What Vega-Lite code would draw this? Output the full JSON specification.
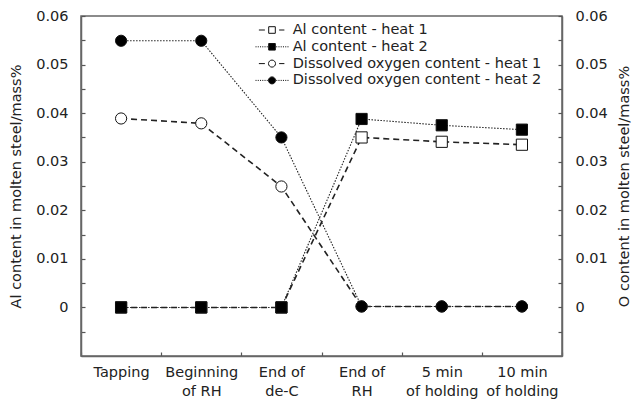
{
  "$schema": "https://vega.github.io/schema/vega-lite/v6.json",
  "width": 481,
  "height": 340,
  "autosize": "none",
  "padding": {"left": 81, "top": 16, "right": 70, "bottom": 50},
  "background": "white",
  "data": {
    "values": [
      {"stage": "Tapping", "series": "Al content - heat 1", "param": "Al", "value": 0},
      {"stage": "Beginning of RH", "series": "Al content - heat 1", "param": "Al", "value": 0},
      {"stage": "End of de-C", "series": "Al content - heat 1", "param": "Al", "value": 0},
      {"stage": "End of RH", "series": "Al content - heat 1", "param": "Al", "value": 0.035},
      {"stage": "5 min of holding", "series": "Al content - heat 1", "param": "Al", "value": 0.0341},
      {"stage": "10 min of holding", "series": "Al content - heat 1", "param": "Al", "value": 0.0335},
      {"stage": "Tapping", "series": "Al content - heat 2", "param": "Al", "value": 0},
      {"stage": "Beginning of RH", "series": "Al content - heat 2", "param": "Al", "value": 0},
      {"stage": "End of de-C", "series": "Al content - heat 2", "param": "Al", "value": 0},
      {"stage": "End of RH", "series": "Al content - heat 2", "param": "Al", "value": 0.0388},
      {"stage": "5 min of holding", "series": "Al content - heat 2", "param": "Al", "value": 0.0375},
      {"stage": "10 min of holding", "series": "Al content - heat 2", "param": "Al", "value": 0.0366},
      {"stage": "Tapping", "series": "Dissolved oxygen content - heat 1", "param": "O", "value": 0.0389},
      {"stage": "Beginning of RH", "series": "Dissolved oxygen content - heat 1", "param": "O", "value": 0.0379},
      {"stage": "End of de-C", "series": "Dissolved oxygen content - heat 1", "param": "O", "value": 0.0249},
      {"stage": "End of RH", "series": "Dissolved oxygen content - heat 1", "param": "O", "value": 0.0002},
      {"stage": "5 min of holding", "series": "Dissolved oxygen content - heat 1", "param": "O", "value": 0.0002},
      {"stage": "10 min of holding", "series": "Dissolved oxygen content - heat 1", "param": "O", "value": 0.0002},
      {"stage": "Tapping", "series": "Dissolved oxygen content - heat 2", "param": "O", "value": 0.0549},
      {"stage": "Beginning of RH", "series": "Dissolved oxygen content - heat 2", "param": "O", "value": 0.0549},
      {"stage": "End of de-C", "series": "Dissolved oxygen content - heat 2", "param": "O", "value": 0.035},
      {"stage": "End of RH", "series": "Dissolved oxygen content - heat 2", "param": "O", "value": 0.0002},
      {"stage": "5 min of holding", "series": "Dissolved oxygen content - heat 2", "param": "O", "value": 0.0002},
      {"stage": "10 min of holding", "series": "Dissolved oxygen content - heat 2", "param": "O", "value": 0.0002}
    ]
  },
  "config": {
    "view": {"stroke": "#666", "strokeWidth": 1.5},
    "font": "DejaVu Sans",
    "axis": {
      "grid": false,
      "domainColor": "#666",
      "domainWidth": 1.5,
      "tickColor": "#555",
      "tickWidth": 1.2,
      "tickSize": -4,
      "labelFont": "DejaVu Sans",
      "labelFontSize": 14.5,
      "labelColor": "#222",
      "titleFont": "DejaVu Sans",
      "titleFontSize": 14.5,
      "titleFontWeight": "normal",
      "titleColor": "#222"
    },
    "legend": {
      "labelFont": "DejaVu Sans",
      "labelFontSize": 14.5,
      "labelColor": "#222",
      "labelLimit": 0
    }
  },
  "encoding": {
    "x": {
      "field": "stage",
      "type": "nominal",
      "scale": {
        "type": "band",
        "paddingInner": 0,
        "paddingOuter": 0,
        "domain": ["Tapping", "Beginning of RH", "End of de-C", "End of RH", "5 min of holding", "10 min of holding"]
      },
      "axis": {
        "title": null,
        "labelAngle": 0,
        "tickBand": "extent",
        "labelPadding": 13,
        "labelLineHeight": 19,
        "labelBaseline": "top",
        "labelExpr": "datum.value == 'Tapping' ? 'Tapping' : datum.value == 'Beginning of RH' ? ['Beginning', 'of RH'] : datum.value == 'End of de-C' ? ['End of', 'de-C'] : datum.value == 'End of RH' ? ['End of', 'RH'] : datum.value == '5 min of holding' ? ['5 min', 'of holding'] : datum.value == '10 min of holding' ? ['10 min', 'of holding'] : ''"
      }
    }
  },
  "layer": [
    {
      "transform": [{"filter": "datum.param == 'Al'"}],
      "encoding": {
        "y": {
          "field": "value",
          "type": "quantitative",
          "scale": {"domain": [-0.01, 0.06], "nice": false, "zero": false},
          "axis": {
            "orient": "left",
            "title": "Al content in molten steel/mass%",
            "values": [-0.005, 0, 0.005, 0.01, 0.015, 0.02, 0.025, 0.03, 0.035, 0.04, 0.045, 0.05, 0.055, 0.06],
            "labelExpr": "datum.value == 0 ? '0' : (round(datum.value * 1000) % 10 == 0 ? format(datum.value, '.2f') : '')",
            "labelPadding": 17,
            "titlePadding": 12
          }
        }
      },
      "layer": [
        {
          "mark": {"type": "line", "color": "#222"},
          "encoding": {
            "detail": {"field": "series", "type": "nominal"},
            "strokeDash": {
              "field": "series", "type": "nominal",
              "scale": {"domain": ["Al content - heat 1", "Al content - heat 2"], "range": [[6, 4], [1.5, 1.5]]},
              "legend": null
            },
            "strokeWidth": {
              "field": "series", "type": "ordinal",
              "scale": {"domain": ["Al content - heat 1", "Al content - heat 2"], "range": [1.6, 1.1]},
              "legend": null
            }
          }
        },
        {
          "mark": {"type": "point", "shape": "square", "size": 125, "filled": true, "stroke": "#111", "strokeWidth": 1, "opacity": 1},
          "encoding": {
            "fill": {
              "field": "series", "type": "nominal",
              "scale": {"domain": ["Al content - heat 1", "Al content - heat 2"], "range": ["white", "black"]},
              "legend": null
            }
          }
        }
      ]
    },
    {
      "transform": [{"filter": "datum.param == 'O'"}],
      "encoding": {
        "y": {
          "field": "value",
          "type": "quantitative",
          "scale": {"domain": [-0.01, 0.06], "nice": false, "zero": false},
          "axis": {
            "orient": "right",
            "title": "O content in molten steel/mass%",
            "titleAngle": 270,
            "values": [-0.005, 0, 0.005, 0.01, 0.015, 0.02, 0.025, 0.03, 0.035, 0.04, 0.045, 0.05, 0.055, 0.06],
            "labelExpr": "datum.value == 0 ? '0' : (round(datum.value * 1000) % 10 == 0 ? format(datum.value, '.2f') : '')",
            "labelPadding": 17,
            "titlePadding": 24
          }
        }
      },
      "layer": [
        {
          "mark": {"type": "line", "color": "#222"},
          "encoding": {
            "detail": {"field": "series", "type": "nominal"},
            "strokeDash": {
              "field": "series", "type": "nominal",
              "scale": {"domain": ["Dissolved oxygen content - heat 1", "Dissolved oxygen content - heat 2"], "range": [[6, 4], [1.5, 1.5]]},
              "legend": null
            },
            "strokeWidth": {
              "field": "series", "type": "ordinal",
              "scale": {"domain": ["Dissolved oxygen content - heat 1", "Dissolved oxygen content - heat 2"], "range": [1.6, 1.1]},
              "legend": null
            }
          }
        },
        {
          "mark": {"type": "point", "shape": "circle", "size": 125, "filled": true, "stroke": "#111", "strokeWidth": 1, "opacity": 1},
          "encoding": {
            "fill": {
              "field": "series", "type": "nominal",
              "scale": {"domain": ["Dissolved oxygen content - heat 1", "Dissolved oxygen content - heat 2"], "range": ["white", "black"]},
              "legend": null
            }
          }
        }
      ]
    },
    {
      "transform": [{"filter": "false"}],
      "mark": {"type": "point", "filled": true, "strokeWidth": 1, "opacity": 1},
      "encoding": {
        "shape": {
          "field": "series", "type": "nominal",
          "scale": {
            "domain": ["Al content - heat 1", "Al content - heat 2", "Dissolved oxygen content - heat 1", "Dissolved oxygen content - heat 2"],
            "range": [
              "M-1.75,0H-0.95M-0.44,-0.44H0.44V0.44H-0.44ZM0.95,0H1.65",
              "M-2.2,0H-2.06M-1.9,0H-1.76M-1.6,0H-1.46M-1.3,0H-1.16M-1,0H-0.86M-0.7,0H-0.56M-0.44,-0.44H0.44V0.44H-0.44ZM0.56,0H0.7M0.86,0H1M1.16,0H1.3M1.46,0H1.6M1.76,0H1.9M2.06,0H2.2",
              "M-1.75,0H-0.95M0.47,0A0.47,0.47 0 1,1 -0.47,0A0.47,0.47 0 1,1 0.47,0ZM0.95,0H1.65",
              "M-2.2,0H-2.06M-1.9,0H-1.76M-1.6,0H-1.46M-1.3,0H-1.16M-1,0H-0.86M-0.7,0H-0.56M0.47,0A0.47,0.47 0 1,1 -0.47,0A0.47,0.47 0 1,1 0.47,0ZM0.56,0H0.7M0.86,0H1M1.16,0H1.3M1.46,0H1.6M1.76,0H1.9M2.06,0H2.2"
            ]
          },
          "legend": {
            "title": null,
            "orient": "none",
            "legendX": 183,
            "legendY": 6,
            "padding": 0,
            "symbolSize": 225,
            "symbolStrokeWidth": 1,
            "labelOffset": 12.7,
            "rowPadding": 1.8,
            "labelLimit": 0
          }
        },
        "fill": {
          "field": "series", "type": "nominal",
          "scale": {
            "domain": ["Al content - heat 1", "Al content - heat 2", "Dissolved oxygen content - heat 1", "Dissolved oxygen content - heat 2"],
            "range": ["white", "black", "white", "black"]
          }
        },
        "stroke": {
          "field": "series", "type": "nominal",
          "scale": {
            "domain": ["Al content - heat 1", "Al content - heat 2", "Dissolved oxygen content - heat 1", "Dissolved oxygen content - heat 2"],
            "range": ["#111", "#111", "#111", "#111"]
          }
        }
      }
    }
  ],
  "resolve": {"scale": {"y": "independent", "fill": "independent", "strokeDash": "independent", "strokeWidth": "independent", "shape": "independent", "stroke": "independent"}}
}
